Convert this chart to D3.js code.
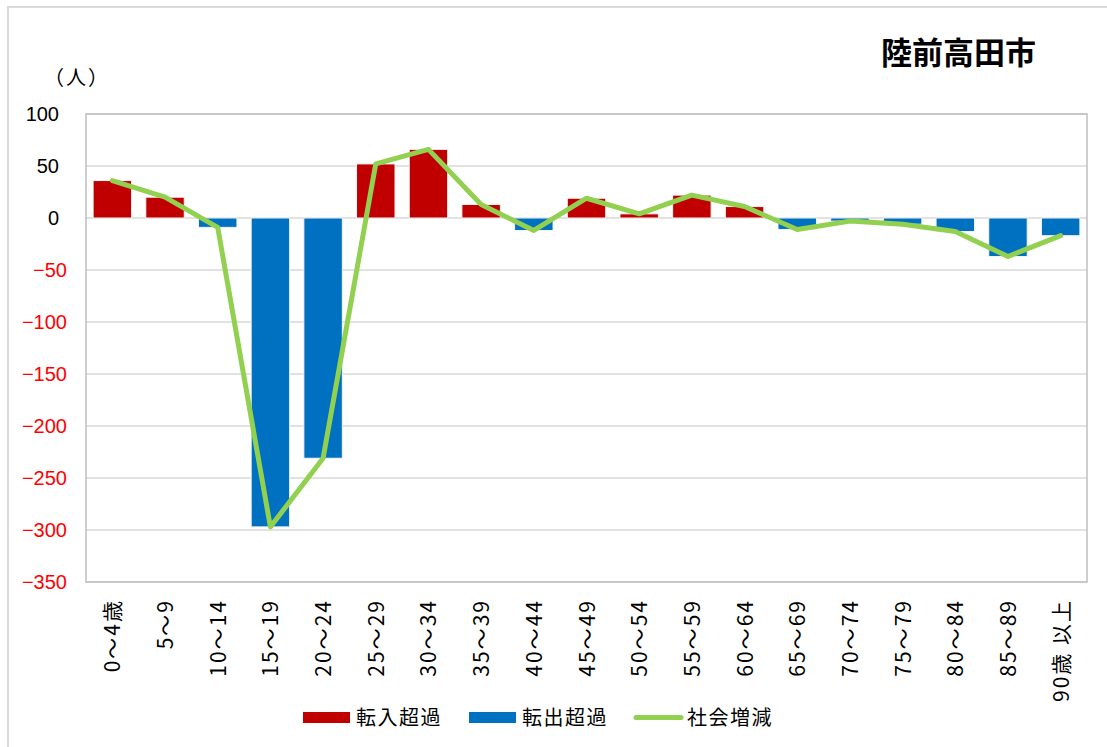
<!DOCTYPE html>
<html>
<head>
<meta charset="utf-8">
<script src="https://cdn.jsdelivr.net/npm/d3@7"></script>
<style>
  html, body { margin: 0; padding: 0; background: #fff; }
  svg { display: block; }
</style>
</head>
<body>
<svg id="chart" width="1107" height="747"></svg>
<script>
const ageGroups = ["0〜4歳","5〜9","10〜14","15〜19","20〜24","25〜29","30〜34","35〜39","40〜44","45〜49","50〜54","55〜59","60〜64","65〜69","70〜74","75〜79","80〜84","85〜89","90歳 以上"];
const netMigration = [36, 20, -9, -297, -231, 52, 66, 13, -12, 19, 4, 22, 11, -11, -3, -6, -13, -37, -17];
const yTicks = [100, 50, 0, -50, -100, -150, -200, -250, -300, -350];
const seriesNames = ["転入超過", "転出超過", "社会増減"];
const title = "陸前高田市";
const unitLabel = "（人）";

const svg = d3.select("#chart");
const W = 1107, H = 747;
const plot = { left: 86, right: 1087, top: 114, bottom: 582 };

// outer frame
svg.append("rect").attr("x", 8).attr("y", 7).attr("width", W + 20).attr("height", H + 20)
  .attr("fill", "#fff").attr("stroke", "#d9d9d9").attr("stroke-width", 2);

const x = d3.scaleBand().domain(ageGroups).range([plot.left, plot.right])
  .paddingInner(0.27).paddingOuter(0.135);
const y = d3.scaleLinear().domain([-350, 100]).range([plot.bottom, plot.top]);

// gridlines
svg.append("g").selectAll("line").data(yTicks).join("line")
  .attr("x1", plot.left).attr("x2", plot.right)
  .attr("y1", d => y(d)).attr("y2", d => y(d))
  .attr("stroke", "#d9d9d9").attr("stroke-width", 1.5);

// plot border
svg.append("rect").attr("x", plot.left).attr("y", plot.top)
  .attr("width", plot.right - plot.left).attr("height", plot.bottom - plot.top)
  .attr("fill", "none").attr("stroke", "#bfbfbf").attr("stroke-width", 1.5);

// y axis labels
const numFont = "'Liberation Sans', Arial, sans-serif";
svg.append("g").selectAll("text").data(yTicks).join("text")
  .attr("x", d => d < 0 ? 67 : 59)
  .attr("y", d => y(d))
  .attr("dy", "0.36em")
  .attr("text-anchor", "end")
  .attr("font-family", numFont)
  .attr("font-size", 20)
  .attr("fill", d => d < 0 ? "#ff0000" : "#000")
  .text(d => d < 0 ? "−" + Math.abs(d) : String(d));

// bars
svg.append("g").selectAll("rect").data(ageGroups.map((c, i) => ({ c, v: netMigration[i] }))).join("rect")
  .attr("x", d => x(d.c))
  .attr("width", x.bandwidth())
  .attr("y", d => y(Math.max(0, d.v)))
  .attr("height", d => Math.abs(y(d.v) - y(0)))
  .attr("fill", d => d.v >= 0 ? "#c00000" : "#0070c0")
  .attr("stroke", "#f4f4f4").attr("stroke-width", 1);

// line
const line = d3.line().x((d, i) => x(ageGroups[i]) + x.bandwidth() / 2).y(d => y(d));
svg.append("path").datum(netMigration)
  .attr("d", line)
  .attr("fill", "none").attr("stroke", "#92d050").attr("stroke-width", 5)
  .attr("stroke-linejoin", "round").attr("stroke-linecap", "round");

// x labels
const jpFont = "'Noto Sans CJK JP', 'Liberation Sans', sans-serif";
svg.append("g").selectAll("text").data(ageGroups).join("text")
  .attr("transform", d => `translate(${x(d) + x.bandwidth() / 2 + 8},599) rotate(-90)`)
  .attr("text-anchor", "end")
  .attr("font-family", jpFont)
  .attr("font-size", 21)
  .attr("letter-spacing", 2)
  .attr("fill", "#000")
  .text(d => d);

// title
svg.append("text").attr("x", 1036).attr("y", 64).attr("text-anchor", "end")
  .attr("font-family", jpFont).attr("font-weight", "bold").attr("font-size", 31)
  .attr("fill", "#000").text(title);

// unit label
svg.append("text").attr("x", 44).attr("y", 85)
  .attr("font-family", jpFont).attr("font-size", 20).attr("letter-spacing", 2)
  .attr("fill", "#000").text(unitLabel);

// legend
const legend = svg.append("g");
const legendItems = [
  { name: seriesNames[0], type: "rect", color: "#c00000", x: 303 },
  { name: seriesNames[1], type: "rect", color: "#0070c0", x: 469 },
  { name: seriesNames[2], type: "line", color: "#92d050", x: 634 }
];
legendItems.forEach(it => {
  if (it.type === "rect") {
    legend.append("rect").attr("x", it.x).attr("y", 712).attr("width", 47).attr("height", 11).attr("fill", it.color);
  } else {
    legend.append("line").attr("x1", it.x + 2).attr("x2", it.x + 47).attr("y1", 717.5).attr("y2", 717.5)
      .attr("stroke", it.color).attr("stroke-width", 5).attr("stroke-linecap", "round");
  }
  legend.append("text").attr("x", it.x + 53).attr("y", 718).attr("dy", "0.36em")
    .attr("font-family", jpFont).attr("font-size", 20).attr("letter-spacing", 1.5)
    .attr("fill", "#000").text(it.name);
});
</script>
</body>
</html>
